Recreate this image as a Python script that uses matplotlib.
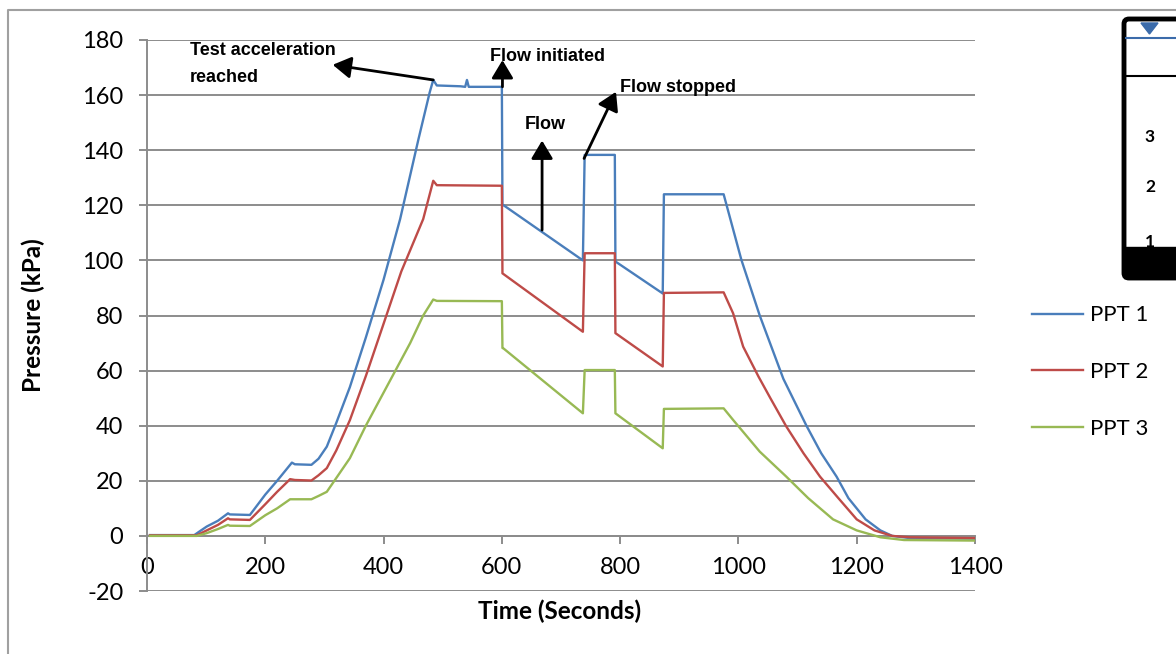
import matplotlib
matplotlib.use("Agg")
import matplotlib.pyplot as plt
from matplotlib.patches import FancyBboxPatch, Polygon, Rectangle

# PPT readings, time in seconds, pressure in kPa
T1 = [5, 80, 88, 101, 120, 137, 140, 174, 200, 220, 245, 250, 278, 290, 304, 320, 343,
      370, 400, 428, 459, 478, 484, 490, 530, 538, 541, 544, 560, 600, 601, 603, 737, 740,
      791, 792, 872, 874, 975, 1005, 1036, 1076, 1115, 1140, 1166, 1186, 1215, 1240, 1260,
      1290, 1400]
P1 = [0.3, 0.3, 1.5, 3.4, 5.5, 8.2, 7.8, 7.6, 15, 20, 26.6, 26, 25.8, 28, 32.4, 41, 54,
      72, 93, 115, 144, 161, 165.5, 163.5, 163.2, 163, 165.5, 163, 163, 163, 120, 120, 100,
      138.3, 138.3, 99.6, 88, 124, 124, 100.2, 80, 57, 40, 30, 21.5, 13.7, 6, 2, 0, -0.8, -1]

T2 = [5, 84, 101, 120, 137, 140, 174, 200, 220, 242, 250, 278, 290, 304, 320, 343, 370,
      400, 430, 467, 484, 490, 600, 601, 603, 737, 740, 791, 792, 872, 874, 975, 991, 1008,
      1034, 1054, 1081, 1110, 1138, 1169, 1200, 1230, 1260, 1290, 1400]
P2 = [0.2, 0.2, 2.0, 4, 6.4, 6, 5.8, 11.5, 16, 20.6, 20.3, 20.1, 22, 24.6, 31, 42, 58,
      77, 96, 115, 128.9, 127.3, 127.1, 95.3, 95, 74.1, 102.6, 102.6, 73.6, 61.5, 88.2,
      88.4, 80.8, 68.7, 57.8, 50, 39.7, 30, 21.5, 13.7, 6, 2, 0, -0.5, -0.8]

T3 = [5, 84, 101, 120, 137, 140, 174, 200, 220, 242, 250, 278, 290, 304, 320, 343, 370,
      395, 420, 445, 467, 484, 490, 600, 601, 603, 737, 740, 791, 792, 872, 874, 975, 991,
      1036, 1081, 1118, 1160, 1200, 1240, 1280, 1400]
P3 = [0, 0, 1, 2.5, 4, 3.7, 3.6, 7.5, 10, 13.3, 13.3, 13.3, 14.5, 16, 21, 28.2, 40,
      50, 60, 70, 80, 85.8, 85.3, 85.2, 68.2, 68, 44.5, 60.2, 60.2, 44.5, 31.8, 46.1, 46.3,
      42.1, 30.6, 21.5, 13.7, 6, 2, -0.5, -1.5, -1.7]

LABELS = ["PPT 1", "PPT 2", "PPT 3"]
COLORS = ["#4A7EBB", "#BE4B48", "#98B954"]
GRID = "#8C8C8C"
W, H = 1176, 654

plt.rcParams["font.family"] = ["Lato", "DejaVu Sans"]
plt.rcParams["axes.unicode_minus"] = False

fig = plt.figure(figsize=(W / 100, H / 100), dpi=100)
ax = fig.add_axes([147 / W, 1 - 591 / H, (975 - 147) / W, (591 - 40) / H])

for t, p, c, lab in zip([T1, T2, T3], [P1, P2, P3], COLORS, LABELS):
    ax.plot(t, p, color=c, lw=1.7, label=lab, zorder=3)

ax.set_xlim(0, 1400)
ax.set_ylim(-20, 180)
ax.set_xticks(range(0, 1401, 200))
ax.set_yticks(range(-20, 181, 20))
ax.grid(axis="y", color=GRID, lw=1.4)
ax.set_axisbelow(True)
for s in ["top", "right"]:
    ax.spines[s].set_visible(False)
ax.spines["bottom"].set_position(("data", 0))
ax.spines["bottom"].set_color(GRID)
ax.spines["bottom"].set_linewidth(1.4)
ax.spines["left"].set_color(GRID)
ax.spines["left"].set_linewidth(1.4)
ax.tick_params(axis="both", colors=GRID, labelcolor="black", labelsize=17,
               length=6, width=1.4)
ax.tick_params(axis="y", pad=11)
ax.tick_params(axis="x", pad=9)

fig.text(33 / W, 1 - 315 / H, "Pressure (kPa)", fontsize=17.5, fontweight="bold",
         rotation=90, ha="center", va="center")
fig.text(560 / W, 1 - 611 / H, "Time (Seconds)", fontsize=17.5, fontweight="bold",
         ha="center", va="center")

# annotations
afont = dict(family=["Liberation Sans", "DejaVu Sans"], fontsize=13, fontweight="bold")
aprops = dict(arrowstyle="-|>,head_length=0.55,head_width=0.33", color="black", lw=2,
              mutation_scale=20, shrinkA=0, shrinkB=0)
ax.annotate("", xy=(314, 171), xytext=(484, 165.5), arrowprops=aprops, zorder=4)
ax.annotate("", xy=(601, 172.7), xytext=(601, 163), arrowprops=aprops, zorder=4)
ax.annotate("", xy=(668, 143.5), xytext=(668, 111), arrowprops=aprops, zorder=4)
ax.annotate("", xy=(793, 161.2), xytext=(739, 137), arrowprops=aprops, zorder=4)
ax.text(72, 174.4, "Test acceleration", va="baseline", **afont)
ax.text(72, 164.7, "reached", va="baseline", **afont)
ax.text(580, 172.5, "Flow initiated", va="baseline", **afont)
ax.text(639, 147.6, "Flow", va="baseline", **afont)
ax.text(800, 161, "Flow stopped", va="baseline", **afont)

fig.legend(loc="center left", bbox_to_anchor=(1032 / W, 1 - 372 / H), frameon=False,
           fontsize=16, handlelength=2.3, handletextpad=0.3, labelspacing=1.65,
           borderpad=0, borderaxespad=0)

# chart frame and the water-level inset at the top right
ov = fig.add_axes([0, 0, 1, 1], facecolor="none")
ov.set_xlim(0, W)
ov.set_ylim(H, 0)
ov.axis("off")
ov.plot([8, 8, W + 5], [H + 5, 10, 10], color="#A0A0A0", lw=1.5)
ov.add_patch(FancyBboxPatch((1124, 19), 70, 259, boxstyle="round,pad=0,rounding_size=5",
                            lw=3.5, ec="black", fc="white"))
ov.add_patch(Polygon([(1141, 23), (1158, 23), (1149.5, 34)], closed=True, color="#3B6BAA"))
ov.plot([1126, W], [38, 38], color="#3B6BAA", lw=1.5)
ov.plot([1126, W], [76, 76], color="black", lw=1.5)
for yy, lab in [(137, "3"), (187, "2"), (242, "1")]:
    ov.text(1150, yy, lab, ha="center", va="center", fontsize=12.5, fontweight="bold",
            zorder=1)
ov.add_patch(Rectangle((1124, 247), 70, 31, color="black", zorder=2))

fig.savefig("out.png", dpi=100, facecolor="white")
